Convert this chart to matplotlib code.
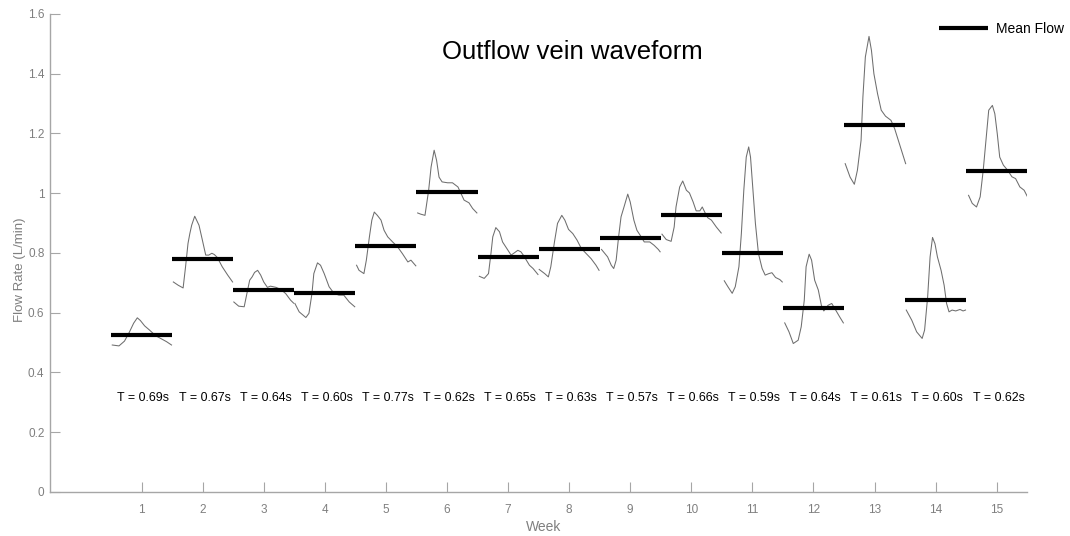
import matplotlib
matplotlib.use("Agg")
import matplotlib.pyplot as plt
from matplotlib.lines import Line2D

plt.rcParams["font.family"] = ["Liberation Sans", "DejaVu Sans"]

# Weekly summary values
weeks = list(range(1, 16))
mean_flow = [0.525, 0.781, 0.676, 0.667, 0.823, 1.003, 0.785, 0.813,
             0.849, 0.928, 0.799, 0.615, 1.230, 0.644, 1.074]
period_s = [0.69, 0.67, 0.64, 0.60, 0.77, 0.62, 0.65, 0.63,
            0.57, 0.66, 0.59, 0.64, 0.61, 0.60, 0.62]
x_ticks = weeks

# One cardiac-cycle waveform per week: (fraction of cycle, flow L/min)
wave_w01 = [(0.02, 0.492), (0.13, 0.489), (0.22, 0.505), (0.30, 0.535), (0.37, 0.565),
            (0.43, 0.583), (0.48, 0.574), (0.55, 0.556), (0.63, 0.542), (0.73, 0.523),
            (0.83, 0.512), (0.91, 0.503), (0.99, 0.492)]
wave_w02 = [(0.02, 0.703), (0.10, 0.692), (0.18, 0.683), (0.22, 0.754), (0.26, 0.832),
            (0.29, 0.865), (0.32, 0.893), (0.37, 0.923), (0.44, 0.893), (0.49, 0.848),
            (0.55, 0.793), (0.60, 0.793), (0.65, 0.799), (0.69, 0.795), (0.74, 0.785),
            (0.82, 0.754), (0.91, 0.726), (0.99, 0.703)]
wave_w03 = [(0.01, 0.636), (0.09, 0.622), (0.18, 0.620), (0.23, 0.670), (0.27, 0.709),
            (0.31, 0.720), (0.35, 0.735), (0.40, 0.742), (0.45, 0.726), (0.50, 0.703),
            (0.56, 0.685), (0.61, 0.689), (0.70, 0.685), (0.78, 0.678), (0.86, 0.664),
            (0.94, 0.642), (0.99, 0.632)]
wave_w04 = [(0.01, 0.631), (0.08, 0.603), (0.19, 0.584), (0.24, 0.598), (0.29, 0.665),
            (0.32, 0.731), (0.38, 0.767), (0.43, 0.759), (0.49, 0.731), (0.57, 0.687),
            (0.65, 0.665), (0.73, 0.659), (0.81, 0.659), (0.90, 0.636), (0.99, 0.620)]
wave_w05 = [(0.02, 0.759), (0.06, 0.742), (0.14, 0.731), (0.18, 0.776), (0.23, 0.854),
            (0.27, 0.910), (0.31, 0.937), (0.36, 0.926), (0.42, 0.910), (0.47, 0.876),
            (0.53, 0.854), (0.61, 0.837), (0.69, 0.821), (0.77, 0.798), (0.86, 0.770),
            (0.91, 0.776), (0.99, 0.757)]
wave_w06 = [(0.02, 0.934), (0.07, 0.930), (0.14, 0.926), (0.20, 1.010), (0.24, 1.088),
            (0.29, 1.144), (0.33, 1.110), (0.37, 1.054), (0.42, 1.038), (0.51, 1.035),
            (0.59, 1.035), (0.68, 1.021), (0.73, 0.999), (0.78, 0.977), (0.86, 0.968),
            (0.92, 0.949), (0.99, 0.934)]
wave_w07 = [(0.03, 0.722), (0.11, 0.715), (0.18, 0.731), (0.22, 0.798), (0.25, 0.854),
            (0.30, 0.885), (0.36, 0.871), (0.41, 0.837), (0.48, 0.815), (0.55, 0.793),
            (0.60, 0.800), (0.66, 0.809), (0.71, 0.804), (0.76, 0.790), (0.80, 0.776),
            (0.85, 0.759), (0.91, 0.748), (0.99, 0.728)]
wave_w08 = [(0.01, 0.745), (0.10, 0.731), (0.16, 0.720), (0.20, 0.754), (0.26, 0.837),
            (0.31, 0.899), (0.38, 0.926), (0.43, 0.910), (0.49, 0.879), (0.56, 0.865),
            (0.63, 0.843), (0.70, 0.815), (0.78, 0.798), (0.86, 0.781), (0.94, 0.759),
            (0.99, 0.742)]
wave_w09 = [(0.03, 0.812), (0.13, 0.787), (0.19, 0.759), (0.23, 0.748), (0.27, 0.776),
            (0.31, 0.854), (0.35, 0.921), (0.40, 0.955), (0.46, 0.997), (0.50, 0.971),
            (0.56, 0.910), (0.61, 0.876), (0.68, 0.854), (0.73, 0.837), (0.82, 0.837),
            (0.89, 0.826), (0.96, 0.812), (0.99, 0.804)]
wave_w10 = [(0.02, 0.863), (0.09, 0.845), (0.17, 0.839), (0.22, 0.887), (0.25, 0.954),
            (0.31, 1.021), (0.36, 1.041), (0.42, 1.010), (0.47, 1.001), (0.53, 0.971),
            (0.58, 0.941), (0.64, 0.941), (0.68, 0.954), (0.72, 0.937), (0.77, 0.918),
            (0.83, 0.910), (0.91, 0.887), (0.99, 0.867)]
wave_w11 = [(0.04, 0.707), (0.10, 0.687), (0.17, 0.665), (0.22, 0.687), (0.28, 0.754),
            (0.32, 0.865), (0.36, 1.010), (0.40, 1.121), (0.44, 1.155), (0.47, 1.121),
            (0.51, 1.010), (0.55, 0.899), (0.60, 0.798), (0.66, 0.748), (0.71, 0.726),
            (0.77, 0.731), (0.82, 0.734), (0.88, 0.718), (0.95, 0.711), (0.99, 0.703)]
wave_w12 = [(0.03, 0.566), (0.10, 0.536), (0.17, 0.497), (0.25, 0.508), (0.30, 0.553),
            (0.35, 0.642), (0.38, 0.754), (0.43, 0.796), (0.47, 0.776), (0.52, 0.709),
            (0.58, 0.676), (0.63, 0.625), (0.67, 0.606), (0.74, 0.625), (0.80, 0.631),
            (0.85, 0.614), (0.93, 0.586), (0.99, 0.566)]
wave_w13 = [(0.02, 1.099), (0.10, 1.054), (0.17, 1.030), (0.22, 1.077), (0.28, 1.177),
            (0.31, 1.322), (0.35, 1.456), (0.41, 1.525), (0.45, 1.478), (0.49, 1.400),
            (0.55, 1.333), (0.61, 1.278), (0.68, 1.258), (0.77, 1.244), (0.83, 1.216),
            (0.89, 1.177), (0.95, 1.138), (1.01, 1.099)]
wave_w14 = [(0.02, 0.609), (0.11, 0.575), (0.19, 0.536), (0.28, 0.514), (0.32, 0.542),
            (0.37, 0.653), (0.41, 0.787), (0.45, 0.852), (0.49, 0.831), (0.53, 0.787),
            (0.59, 0.742), (0.64, 0.692), (0.68, 0.631), (0.72, 0.603), (0.77, 0.609),
            (0.83, 0.606), (0.90, 0.611), (0.95, 0.606), (0.99, 0.609)]
wave_w15 = [(0.04, 0.993), (0.10, 0.966), (0.17, 0.954), (0.23, 0.988), (0.28, 1.077),
            (0.34, 1.211), (0.37, 1.278), (0.43, 1.294), (0.47, 1.266), (0.51, 1.199),
            (0.55, 1.121), (0.61, 1.094), (0.68, 1.077), (0.75, 1.055), (0.81, 1.049),
            (0.88, 1.021), (0.95, 1.010), (1.00, 0.990)]

waveforms = [wave_w01, wave_w02, wave_w03, wave_w04, wave_w05, wave_w06, wave_w07,
             wave_w08, wave_w09, wave_w10, wave_w11, wave_w12, wave_w13, wave_w14,
             wave_w15]

grey_text = "#7f7f7f"
axis_grey = "#a6a6a6"

fig = plt.figure(figsize=(10.70, 5.36), dpi=100)
ax = fig.add_axes([0.0467, 0.0821, 0.9133, 0.8918])

for wk, wave in zip(weeks, waveforms):
    t = [wk - 0.5 + p[0] for p in wave]
    q = [p[1] for p in wave]
    ax.plot(t, q, color="#6e6e6e", lw=0.75, solid_joinstyle="round", zorder=2)

for wk, m in zip(weeks, mean_flow):
    ax.plot([wk - 0.5, wk + 0.5], [m, m], color="black", lw=3.0,
            solid_capstyle="butt", zorder=3)

for wk, T in zip(weeks, period_s):
    ax.text(wk + 0.03, 0.315, f"T = {T:.2f}s", ha="center", va="center",
            fontsize=8.9, color="black")

ax.text(8.05, 1.472, "Outflow vein waveform", ha="center", va="center",
        fontsize=18.5, color="black")

ax.set_xlim(-0.5, 15.5)
ax.set_ylim(0, 1.6)
ax.set_xticks(x_ticks)
ax.set_xticklabels([str(w) for w in x_ticks])
ax.set_yticks([0, 0.2, 0.4, 0.6, 0.8, 1.0, 1.2, 1.4, 1.6])
ax.set_yticklabels(["0", "0.2", "0.4", "0.6", "0.8", "1", "1.2", "1.4", "1.6"])

for side in ("top", "right"):
    ax.spines[side].set_visible(False)
for side in ("left", "bottom"):
    ax.spines[side].set_color(axis_grey)
    ax.spines[side].set_linewidth(1.0)

ax.tick_params(axis="both", direction="in", length=7, width=0.8,
               color=axis_grey, labelcolor=grey_text, labelsize=8.5)
ax.tick_params(axis="x", pad=9)
ax.tick_params(axis="y", pad=4)

ax.set_xlabel("Week", fontsize=10, color=grey_text)
ax.set_ylabel("Flow Rate (L/min)", fontsize=9.5, color=grey_text)
ax.xaxis.set_label_coords(0.505, -0.073)
ax.yaxis.set_label_coords(-0.031, 0.464)
ax.xaxis.label.set_va("center")
ax.yaxis.label.set_va("center")

handle = Line2D([], [], color="black", lw=3.0, solid_capstyle="butt")
ax.legend([handle], ["Mean Flow"], loc="center left", frameon=False,
          bbox_to_anchor=(0.866, 0.946), bbox_transform=fig.transFigure,
          handlelength=3.5, handletextpad=0.6, fontsize=10)

fig.savefig("out.png", dpi=100)
